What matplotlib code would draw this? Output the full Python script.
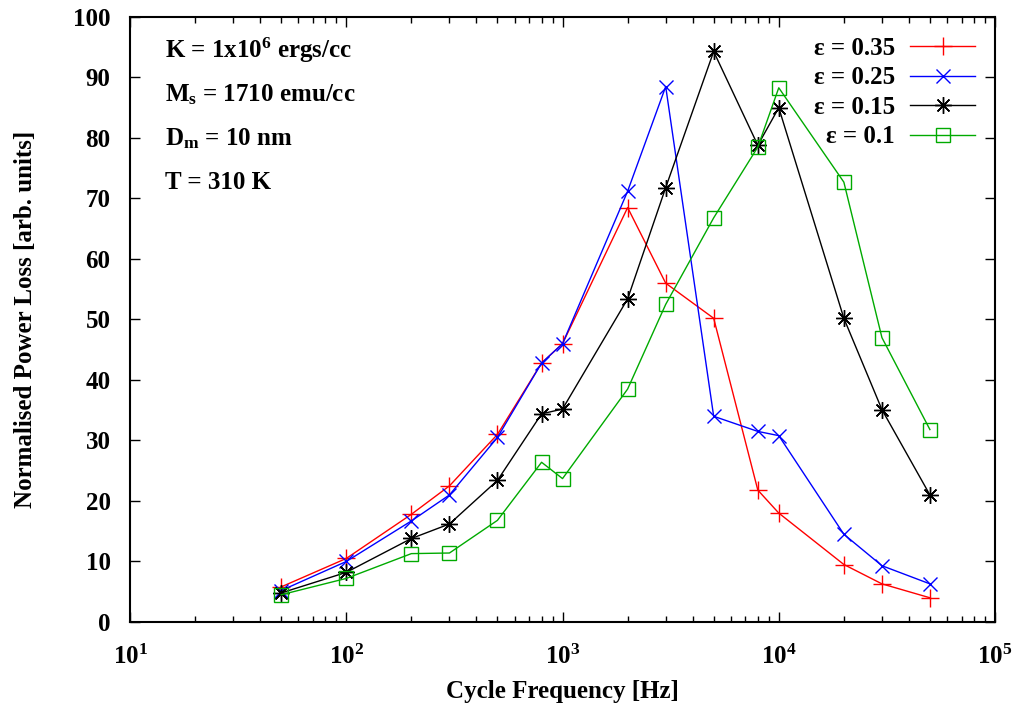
import matplotlib
matplotlib.use('Agg')
import matplotlib.pyplot as plt

plt.rcParams['font.family'] = 'Liberation Serif'
plt.rcParams['font.weight'] = 'bold'
plt.rcParams['axes.labelweight'] = 'bold'
plt.rcParams['mathtext.default'] = 'regular'
plt.rcParams['mathtext.fontset'] = 'custom'
plt.rcParams['mathtext.rm'] = 'Liberation Serif:bold'
plt.rcParams['mathtext.it'] = 'Liberation Serif:bold'
plt.rcParams['mathtext.bf'] = 'Liberation Serif:bold'

freq = [50, 100, 200, 300, 500, 800, 1000, 2000, 3000, 5000, 8000, 10000, 20000, 30000, 50000]

loss_035 = [5.8, 10.5, 17.8, 22.5, 31.0, 42.8, 46.0, 68.5, 56.0, 50.2, 21.8, 18.0, 9.5, 6.3, 4.0]
loss_025 = [5.2, 10.0, 16.7, 21.0, 30.5, 42.8, 46.0, 71.2, 88.5, 34.0, 31.5, 30.8, 14.5, 9.3, 6.3]
loss_015 = [4.8, 8.2, 13.8, 16.2, 23.4, 34.4, 35.2, 53.4, 71.8, 94.3, 78.8, 85.0, 50.2, 35.1, 21.0]
loss_010 = [4.5, 7.2, 11.3, 11.4, 16.8, 26.4, 23.7, 38.5, 52.5, 66.8, 78.5, 88.3, 72.7, 47.0, 31.8]

labels = ['ε = 0.35', 'ε = 0.25', 'ε = 0.15', 'ε = 0.1']
colors = ['#ff0000', '#0000ff', '#000000', '#00aa00']

fs = 18

fig = plt.figure(figsize=(10.2, 7.08), dpi=100)
ax = fig.add_axes([0.1275, 0.1215, 0.848, 0.8545])

ax.plot(freq, loss_035, color=colors[0], lw=1, marker='+', ms=13, mew=1, label=labels[0])
ax.plot(freq, loss_025, color=colors[1], lw=1, marker='x', ms=10, mew=1, label=labels[1])
ax.plot(freq, loss_015, color=colors[2], lw=1, marker=(8, 2, 0), ms=12, mew=1, label=labels[2])
ax.plot(freq, loss_010, color=colors[3], lw=1, marker='s', ms=10, mew=1,
        fillstyle='none', label=labels[3])

ax.set_xscale('log')
ax.set_xlim(10, 1e5)
ax.set_ylim(0, 100)
ax.set_yticks(range(0, 101, 10))

ax.tick_params(which='both', direction='in', top=True, right=True, labelsize=fs, width=1)
ax.tick_params(which='major', length=7)
ax.tick_params(which='minor', length=4)
ax.tick_params(axis='y', pad=14)
ax.tick_params(axis='x', pad=16)
for s in ax.spines.values():
    s.set_linewidth(1.5)

ax.set_xlabel('Cycle Frequency [Hz]', fontsize=fs, labelpad=8)
ax.set_ylabel('Normalised Power Loss [arb. units]', fontsize=fs, labelpad=26)

info = ['K = 1x10$^6$ ergs/cc', 'M$_s$ = 1710 emu/cc', 'D$_m$ = 10 nm', 'T = 310 K']
for i, t in enumerate(info):
    ax.text(0.04, 0.945 - i * 0.073, t, transform=ax.transAxes, fontsize=fs, va='center')

ax.legend(loc='upper right', markerfirst=False, frameon=False, fontsize=fs,
          handlelength=2.6, labelspacing=0.26, borderaxespad=0.4, handletextpad=0.6)

fig.savefig('out.png', dpi=100)
